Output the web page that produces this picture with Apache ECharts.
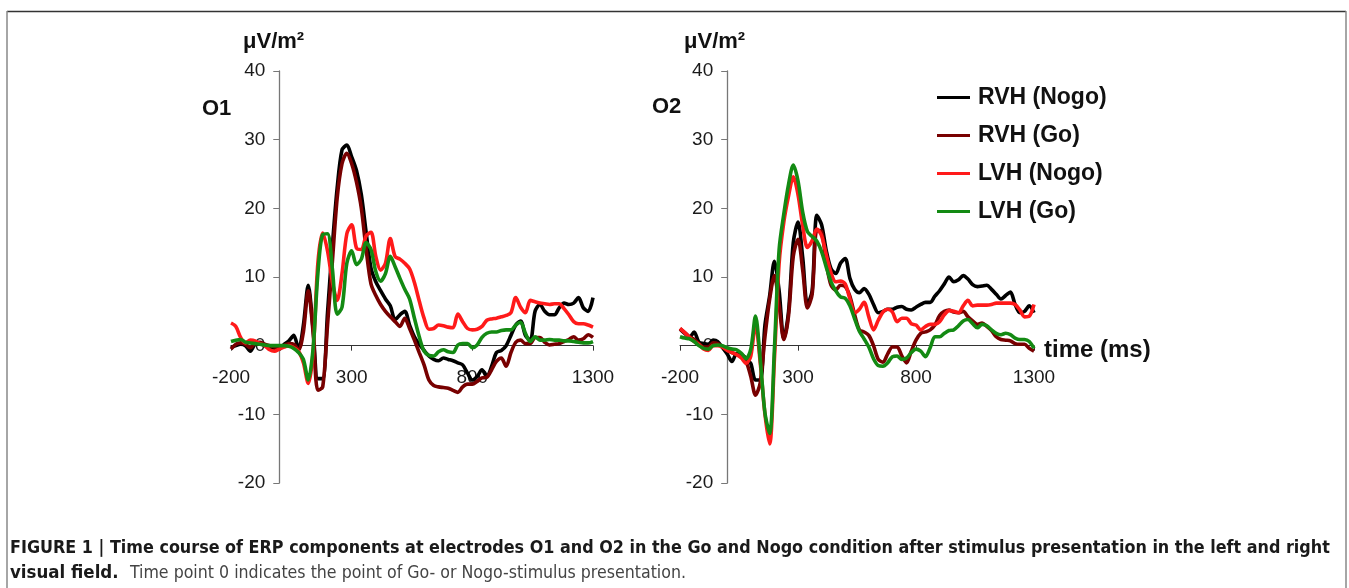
<!DOCTYPE html>
<html><head><meta charset="utf-8">
<script src="https://cdn.jsdelivr.net/npm/echarts@6/dist/echarts.min.js"></script>
<style>html,body{margin:0;padding:0;background:#fff;}#c{width:1349px;height:588px;}</style>
</head><body><div id="c"></div>
<script>
// time points (ms)
const times = [-200,-180,-160,-140,-120,-100,-80,-60,-40,-20,
  0,20,40,60,80,100,120,140,160,180,
  200,220,240,260,280,300,320,340,360,380,
  400,420,440,460,480,500,520,540,560,580,
  600,620,640,660,680,700,720,740,760,780,
  800,820,840,860,880,900,920,940,960,980,
  1000,1020,1040,1060,1080,1100,1120,1140,1160,1180,
  1200,1220,1240,1260,1280,1300];

const seriesNames = ['RVH (Nogo)', 'RVH (Go)', 'LVH (Nogo)', 'LVH (Go)'];
const panelLabels = ['O1', 'O2'];
const yUnit = 'μV/m²';
const xName = 'time (ms)';

// O1 electrode (µV/m²)
const o1RvhNogo = [-0.3,0.0,0.2,0.0,-0.8,0.2,0.3,0.0,-0.2,-0.4,
  -0.5,0.2,0.7,1.5,-0.5,3.0,8.8,2.5,-4.8,-4.8,
  4.8,14.5,23.0,28.5,29.2,27.5,25.5,22.0,16.5,11.3,
  9.3,8.0,6.8,5.8,3.8,4.5,5.0,3.0,1.3,0.2,
  -0.7,-1.5,-2.0,-2.2,-1.8,-2.0,-2.2,-2.5,-2.8,-4.0,
  -5.0,-4.5,-3.5,-4.5,-3.0,-1.0,-0.7,0.0,1.5,3.0,
  3.6,1.5,0.8,5.0,6.0,5.0,4.5,4.5,5.5,6.2,
  6.0,6.2,7.0,5.5,5.0,7.0];
const o1RvhGo = [-0.5,0.2,0.4,0.2,-0.3,0.4,0.5,0.2,0.0,-0.2,
  -0.3,0.0,0.3,0.2,-0.6,2.0,8.0,2.0,-6.5,-6.0,
  3.0,12.2,21.5,26.5,28.0,26.5,23.8,20.0,14.0,9.0,
  7.3,6.0,5.0,4.2,3.5,2.8,4.0,2.5,0.8,-1.0,
  -2.8,-5.0,-5.8,-6.0,-6.1,-6.2,-6.5,-6.8,-6.0,-5.6,
  -5.6,-5.2,-4.7,-4.6,-3.5,-2.3,-1.8,-3.0,-1.0,0.5,
  0.8,0.3,0.3,1.2,1.2,0.5,0.1,0.2,0.3,0.6,
  0.9,1.3,0.8,1.0,1.6,1.2];
const o1LvhNogo = [3.3,2.8,1.2,0.4,0.8,0.7,0.3,0.0,-0.6,-0.8,
  -0.5,-0.2,0.0,-0.3,-0.8,-2.5,-5.5,-1.0,12.0,16.4,
  13.8,9.3,6.6,10.5,16.3,17.6,14.2,14.0,16.0,16.5,
  13.0,11.0,12.0,15.6,13.0,12.6,12.0,11.2,9.2,6.5,
  4.0,2.4,2.5,3.0,2.9,2.7,2.6,4.6,3.5,2.5,
  2.3,2.4,2.8,3.7,3.9,4.0,4.2,4.4,4.8,7.0,
  5.6,4.8,6.6,6.4,6.2,6.1,6.0,6.1,6.1,5.4,
  4.5,3.5,3.2,3.2,3.0,2.7];
const o1LvhGo = [0.6,0.8,0.9,0.5,0.4,0.3,0.2,0.1,0.0,0.0,
  0.0,0.0,-0.1,-0.4,-1.0,-2.0,-5.0,-0.5,10.5,16.2,
  16.3,11.2,4.6,5.6,12.0,13.8,11.8,12.6,15.0,14.0,
  10.8,9.4,10.5,13.0,11.5,9.8,8.2,6.8,4.0,1.3,
  -0.8,-1.4,-1.5,-0.9,-0.6,-0.9,-1.0,0.1,0.3,0.3,
  -0.3,0.1,1.2,1.8,2.0,2.0,2.2,2.3,2.3,3.0,
  3.4,1.8,0.6,1.3,0.8,0.8,0.9,0.8,0.8,0.7,
  0.7,0.6,0.5,0.4,0.4,0.6];

// O2 electrode (µV/m²)
const o2RvhNogo = [2.4,1.8,1.2,2.0,0.5,0.3,0.2,0.8,0.6,-0.3,
  -1.2,-2.3,-1.2,-1.3,-1.8,-2.6,-5.0,-5.0,3.0,7.3,
  12.3,8.0,1.0,5.0,15.0,18.0,12.8,6.0,8.0,19.0,
  17.6,13.8,11.2,10.5,12.0,12.7,9.8,8.2,7.7,8.3,
  7.5,6.0,4.8,5.0,5.3,5.3,5.6,5.7,5.3,5.2,
  5.6,6.0,6.3,6.3,7.2,8.0,9.0,10.0,9.3,9.6,
  10.2,9.7,8.9,8.6,8.7,8.8,8.2,7.5,6.8,7.3,
  7.8,6.0,4.8,5.0,5.8,4.8];
const o2RvhGo = [2.5,1.9,1.3,0.9,0.3,-0.2,-0.2,0.4,0.3,-0.2,
  -0.6,-1.0,-1.3,-1.6,-2.3,-4.5,-7.2,-5.4,1.3,6.8,
  10.2,5.9,0.9,4.4,13.0,15.5,11.0,5.5,7.5,16.8,
  16.6,12.0,8.8,8.1,8.8,8.6,7.2,4.5,2.3,2.0,
  1.5,0.0,-2.0,-2.4,-1.2,-0.2,-0.2,-1.5,-2.5,-0.8,
  0.8,1.8,2.0,2.3,3.0,4.4,5.0,5.2,4.9,4.8,
  5.0,4.2,3.6,3.1,3.3,2.8,2.2,1.3,0.9,0.8,
  0.7,0.3,0.2,0.2,-0.4,-0.8];
const o2LvhNogo = [2.5,1.9,1.2,0.6,0.2,-0.5,-0.7,0.0,0.0,-0.2,
  -0.7,-1.0,-1.3,-1.8,-2.6,-1.5,3.2,-2.5,-10.0,-14.3,
  -2.0,12.0,18.0,21.8,24.6,22.0,17.5,14.3,15.3,17.0,
  16.0,13.2,10.6,9.3,9.4,9.0,6.8,4.8,5.3,6.3,
  4.2,2.3,3.7,4.9,5.3,4.9,3.5,4.0,4.0,3.2,
  3.0,2.3,2.8,3.1,3.1,3.5,4.5,5.1,5.0,4.8,
  5.8,6.6,5.8,5.9,5.9,5.9,6.0,6.2,6.2,6.2,
  6.2,6.0,5.2,4.2,4.3,6.0];
const o2LvhGo = [1.3,1.1,1.0,0.6,0.0,-0.4,-0.5,0.0,0.1,0.0,
  -0.3,-0.5,-0.6,-1.1,-1.9,-0.5,4.3,-2.0,-9.8,-12.8,
  -0.5,14.0,19.2,23.5,26.3,24.0,19.4,16.6,15.9,15.2,
  13.7,11.4,9.3,8.0,7.1,6.9,5.8,3.9,2.1,1.0,
  -0.2,-1.9,-2.9,-3.0,-2.5,-1.6,-1.5,-2.0,-1.8,-1.0,
  -0.5,-0.8,-1.6,-0.3,1.3,1.3,1.8,2.2,2.3,2.9,
  3.6,3.8,3.2,2.6,3.1,2.9,2.3,1.8,1.6,1.8,
  1.6,1.1,0.9,0.9,0.6,-0.4];

const colors = ['#000000', '#780000', '#ff1a1a', '#138a13'];
const panels = [
  [o1RvhNogo, o1RvhGo, o1LvhNogo, o1LvhGo],
  [o2RvhNogo, o2RvhGo, o2LvhNogo, o2LvhGo]
];

const X_MIN = -200, X_MAX = 1300, Y_MIN = -20, Y_MAX = 40;
const FONT = '"Liberation Sans", Arial, sans-serif';
const grids = [
  {left: 231, top: 71, width: 362, height: 412},
  {left: 680, top: 71, width: 354, height: 412}
];
// axes cross at the origin (time 0, value 0): shift them into the plot
const yShift = g => -g.width * (0 - X_MIN) / (X_MAX - X_MIN);
const xShift = g => -g.height * (0 - Y_MIN) / (Y_MAX - Y_MIN);

const xAxes = grids.map((g, i) => ({
  gridIndex: i, type: 'value', min: X_MIN, max: X_MAX, interval: 500,
  position: 'bottom', offset: xShift(g),
  axisLine: {onZero: false, lineStyle: {color: '#333', width: 1}},
  axisTick: {show: true, length: 5, lineStyle: {color: '#333'}},
  axisLabel: {margin: 23, fontSize: 19, color: '#1a1a1a', fontFamily: FONT, showMinLabel: true, showMaxLabel: true,
    formatter: v => String(v)},
  splitLine: {show: false}
}));
const yAxes = grids.map((g, i) => ({
  gridIndex: i, type: 'value', min: Y_MIN, max: Y_MAX, interval: 10,
  position: 'left', offset: yShift(g),
  axisLine: {show: true, onZero: false, lineStyle: {color: '#777', width: 1.3}},
  axisTick: {show: true, length: 6, lineStyle: {color: '#777'}},
  axisLabel: {margin: 14, fontSize: 19, color: '#1a1a1a', fontFamily: FONT, formatter: v => String(v)},
  splitLine: {show: false}
}));

const series = [];
panels.forEach((arrs, p) => {
  arrs.forEach((vals, k) => {
    series.push({
      name: seriesNames[k], type: 'line', xAxisIndex: p, yAxisIndex: p,
      data: times.map((t, i) => [t, vals[i]]),
      symbol: 'none', showSymbol: false, smooth: 0.3,
      lineStyle: {color: colors[k], width: 3.6},
      itemStyle: {color: colors[k]},
      z: 2 + k
    });
  });
});

const capBold = 'FIGURE 1 | Time course of ERP components at electrodes O1 and O2 in the Go and Nogo condition after stimulus presentation in the left and right';
const capLine2Bold = 'visual field.';
const capLine2 = 'Time point 0 indicates the point of Go- or Nogo-stimulus presentation.';
const CAPFONT = '"DejaVu Sans Condensed", "Liberation Sans", sans-serif';

const chart = echarts.init(document.getElementById('c'), null, {renderer: 'canvas'});
chart.setOption({
  animation: false,
  backgroundColor: '#fff',
  grid: grids,
  xAxis: xAxes,
  yAxis: yAxes,
  legend: {
    data: seriesNames, orient: 'vertical', left: 937, top: 86, padding: 0,
    icon: 'rect', itemWidth: 33, itemHeight: 3, itemGap: 15,
    textStyle: {fontSize: 23, fontWeight: 'bold', color: '#111', fontFamily: FONT, lineHeight: 21, padding: [0, 0, 0, 3]}
  },
  series: series,
  graphic: [
    {type: 'line', shape: {x1: 7, y1: 11.5, x2: 1346, y2: 11.5}, style: {stroke: '#333', lineWidth: 1.5}},
    {type: 'line', shape: {x1: 7, y1: 11, x2: 7, y2: 600}, style: {stroke: '#888', lineWidth: 1.5}},
    {type: 'line', shape: {x1: 1346, y1: 11, x2: 1346, y2: 600}, style: {stroke: '#888', lineWidth: 1.5}},
    {type: 'text', x: 243, y: 42, style: {text: yUnit, font: 'bold 22px ' + FONT, fill: '#111', verticalAlign: 'middle'}},
    {type: 'text', x: 684, y: 42, style: {text: yUnit, font: 'bold 22px ' + FONT, fill: '#111', verticalAlign: 'middle'}},
    {type: 'text', x: 202, y: 109, style: {text: panelLabels[0], font: 'bold 22px ' + FONT, fill: '#111', verticalAlign: 'middle'}},
    {type: 'text', x: 652, y: 107, style: {text: panelLabels[1], font: 'bold 22px ' + FONT, fill: '#111', verticalAlign: 'middle'}},
    {type: 'text', x: 1044, y: 350, style: {text: xName, font: 'bold 24px ' + FONT, fill: '#111', verticalAlign: 'middle'}},
    {type: 'text', x: 10, y: 548, style: {text: capBold, font: 'bold 17.8px ' + CAPFONT, fill: '#1a1a1a', verticalAlign: 'middle'}},
    {type: 'text', x: 10, y: 573, style: {
      text: '{b|' + capLine2Bold + '} {n|' + capLine2 + '}',
      verticalAlign: 'middle',
      rich: {
        b: {font: 'bold 18.5px ' + CAPFONT, fill: '#1a1a1a', padding: [0, 8, 0, 0]},
        n: {font: '17.6px ' + CAPFONT, fill: '#444'}
      }
    }}
  ]
});
</script></body></html>
